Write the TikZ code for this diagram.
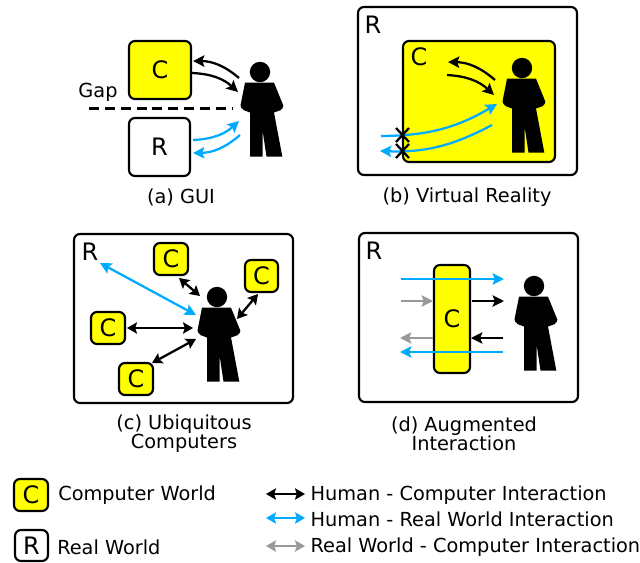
\documentclass[tikz,border=0pt]{standalone}
\usepackage{fontspec}
\setmainfont{DejaVu Sans}
\usetikzlibrary{arrows.meta}
\definecolor{cyel}{RGB}{255,255,0}
\definecolor{hrblue}{RGB}{0,170,255}
\definecolor{rcgray}{RGB}{153,153,153}
\tikzset{
  x=0.75pt,y=-0.75pt,
  bigtip/.tip={Stealth[length=8.5pt,width=8.5pt,inset=1.6pt]},
  smalltip/.tip={Stealth[length=7.5pt,width=8.5pt,inset=1.4pt]},
  world/.style={draw=black,line width=1.6pt,rounded corners=4.5pt,fill=white,inner sep=0pt,outer sep=0pt,anchor=north west},
  compworld/.style={world,fill=cyel},
  boxlabel/.style={font=\fontsize{18pt}{20pt}\selectfont,inner sep=0pt},
  captxt/.style={font=\fontsize{14.5pt}{14.25pt}\selectfont,inner sep=0pt,align=center},
  legend/.style={font=\fontsize{14.5pt}{15pt}\selectfont,inner sep=0pt,anchor=base west},
  hc/.style={draw=black,line width=1.7pt,-bigtip},
  hr/.style={draw=hrblue,line width=1.7pt,-bigtip},
  rc/.style={draw=rcgray,line width=1.7pt,-bigtip},
  hcd/.style={draw=black,line width=1.7pt,smalltip-smalltip},
  hrd/.style={draw=hrblue,line width=1.7pt,bigtip-bigtip},
  hrl/.style={draw=hrblue,line width=1.7pt,smalltip-smalltip},
  rcd/.style={draw=rcgray,line width=1.7pt,smalltip-smalltip},
  gapline/.style={draw=black,line width=2.4pt,dash pattern=on 7.5pt off 4.4pt},
  cross/.style={draw=black,line width=1.7pt},
  person/.pic={
    \fill[black] (0,0) circle[radius=10.2];
    \fill[black] (-15,10.7) -- (14,10.7) -- (23.3,33.5) [rounded corners=1.5pt] -- (22.5,37.5) [sharp corners] -- (14,40.5)
      -- (22.3,84.5) -- (6.5,84.5) -- (2.5,58) -- (2.5,84.5) -- (-10,84.5) -- (-10,40.5) [rounded corners=1.5pt] -- (-18,37.5) [sharp corners] -- (-19.5,33.5) -- cycle;
  }
}
\newcommand{\bx}[6]{\node[#2,minimum width=#5*0.75pt,minimum height=#6*0.75pt] (#1) at (#3,#4) {};}
\begin{document}
\begin{tikzpicture}
\useasboundingbox (0,0) rectangle (640,562);
\fill[white] (0,0) rectangle (640,562);

% (a) GUI
\bx{ac}{compworld}{129}{41}{62}{58}
\bx{ar}{world}{129}{118}{61}{58}
\node[boxlabel] (acl) at (ac.center) {C};
\node[boxlabel] (arl) at (ar.center) {R};
\node[captxt] (gaplbl) at (98,92) {Gap};
\coordinate (g1) at (89,108.7); \coordinate (g2) at (232,108.7);
\draw[gapline] (g1) -- (g2);
\pic at (260,72) {person};
\coordinate (a1s) at (239,78); \coordinate (a1e) at (193,61);
\coordinate (a2s) at (192,73); \coordinate (a2e) at (238,92);
\coordinate (a3s) at (193,140); \coordinate (a3e) at (239,121);
\coordinate (a4s) at (240,135); \coordinate (a4e) at (193,153);
\draw[hc] (a1s) to[bend right=20] (a1e);
\draw[hc] (a2s) to[bend left=20] (a2e);
\draw[hr] (a3s) to[bend right=20] (a3e);
\draw[hr] (a4s) to[bend left=20] (a4e);
\node[captxt] (capa) at (181,197.5) {(a) GUI};

% (b) Virtual Reality
\bx{br}{world}{358}{7}{219}{168}
\bx{bc}{compworld}{403}{41}{152}{121}
\node[boxlabel] (brl) at (373,25) {R};
\node[boxlabel] (bcl) at (419,57) {C};
\pic at (522,68) {person};
\coordinate (b1s) at (495,80); \coordinate (b1e) at (448,62);
\coordinate (b2s) at (447,75); \coordinate (b2e) at (494,95);
\coordinate (b3s) at (381,136); \coordinate (b3e) at (497,104);
\coordinate (b4s) at (492,125); \coordinate (b4e) at (380,151);
\draw[hc] (b1s) to[bend right=20] (b1e);
\draw[hc] (b2s) to[bend left=20] (b2e);
\draw[hr] (b3s) to[bend right=15] (b3e);
\draw[hr] (b4s) to[bend left=15] (b4e);
\coordinate (x1a) at (396,128); \coordinate (x1b) at (409,142);
\coordinate (x1c) at (409,128); \coordinate (x1d) at (396,142);
\coordinate (x2a) at (396,144); \coordinate (x2b) at (409,158);
\coordinate (x2c) at (409,144); \coordinate (x2d) at (396,158);
\draw[cross] (x1a) -- (x1b); \draw[cross] (x1c) -- (x1d);
\draw[cross] (x2a) -- (x2b); \draw[cross] (x2c) -- (x2d);
\node[captxt] (capb) at (467,197.5) {(b) Virtual Reality};

% (c) Ubiquitous Computers
\bx{cr}{world}{74}{234}{219}{169}
\bx{c1}{compworld}{154}{243}{34}{32}
\bx{c2}{compworld}{245}{260}{33}{32}
\bx{c3}{compworld}{91}{312}{34}{32}
\bx{c4}{compworld}{119}{363}{34}{32}
\node[boxlabel] at (c1.center) {C};
\node[boxlabel] at (c2.center) {C};
\node[boxlabel] at (c3.center) {C};
\node[boxlabel] at (c4.center) {C};
\node[boxlabel] (crl) at (90,252) {R};
\pic at (217,297) {person};
\coordinate (c0a) at (100,263); \coordinate (c0b) at (196,315);
\coordinate (c1a) at (179,278); \coordinate (c1b) at (200,296);
\coordinate (c2a) at (258,294); \coordinate (c2b) at (237,319);
\coordinate (c3a) at (127,328); \coordinate (c3b) at (193,328);
\coordinate (c4a) at (152,363); \coordinate (c4b) at (196,339);
\draw[hrd] (c0a) -- (c0b);
\draw[hcd] (c1a) -- (c1b);
\draw[hcd] (c2a) -- (c2b);
\draw[hcd] (c3a) -- (c3b);
\draw[hcd] (c4a) -- (c4b);
\node[captxt] (capc) at (184,434) {(c) Ubiquitous\\[0pt]Computers};

% (d) Augmented Interaction
\bx{dr}{world}{359}{233}{219}{169}
\bx{dc}{compworld}{434}{265}{36}{108}
\node[boxlabel] (drl) at (374,251) {R};
\node[boxlabel] (dcl) at (dc.center) {C};
\pic at (534,286) {person};
\coordinate (d1a) at (401,279); \coordinate (d1b) at (504,279);
\coordinate (d2a) at (401,301); \coordinate (d2b) at (433,301);
\coordinate (d3a) at (472,301); \coordinate (d3b) at (504,301);
\coordinate (d4a) at (503,338); \coordinate (d4b) at (471,338);
\coordinate (d5a) at (433,338); \coordinate (d5b) at (400,338);
\coordinate (d6a) at (503,352); \coordinate (d6b) at (400,352);
\draw[hr] (d1a) -- (d1b);
\draw[rc] (d2a) -- (d2b);
\draw[hc] (d3a) -- (d3b);
\draw[hc] (d4a) -- (d4b);
\draw[rc] (d5a) -- (d5b);
\draw[hr] (d6a) -- (d6b);
\node[captxt] (capd) at (464,433.5) {(d) Augmented\\[0pt]Interaction};

% legend
\bx{lc}{compworld}{14}{479}{34}{32}
\bx{lr}{world}{15}{530}{33}{31}
\node[boxlabel] at (lc.center) {C};
\node[boxlabel] at (lr.center) {R};
\node[legend] (lt1) at (58,500) {Computer World};
\node[legend] (lt2) at (57,554) {Real World};
\coordinate (l1a) at (266,494); \coordinate (l1b) at (305,494);
\coordinate (l2a) at (266,518); \coordinate (l2b) at (305,518);
\coordinate (l3a) at (266,546); \coordinate (l3b) at (305,546);
\draw[hcd] (l1a) -- (l1b);
\draw[hrl] (l2a) -- (l2b);
\draw[rcd] (l3a) -- (l3b);
\node[legend] (lt3) at (310.3,500) {Human - Computer Interaction};
\node[legend] (lt4) at (310.3,526) {Human - Real World Interaction};
\node[legend] (lt5) at (310.3,552) {Real World - Computer Interaction};
\end{tikzpicture}
\end{document}
